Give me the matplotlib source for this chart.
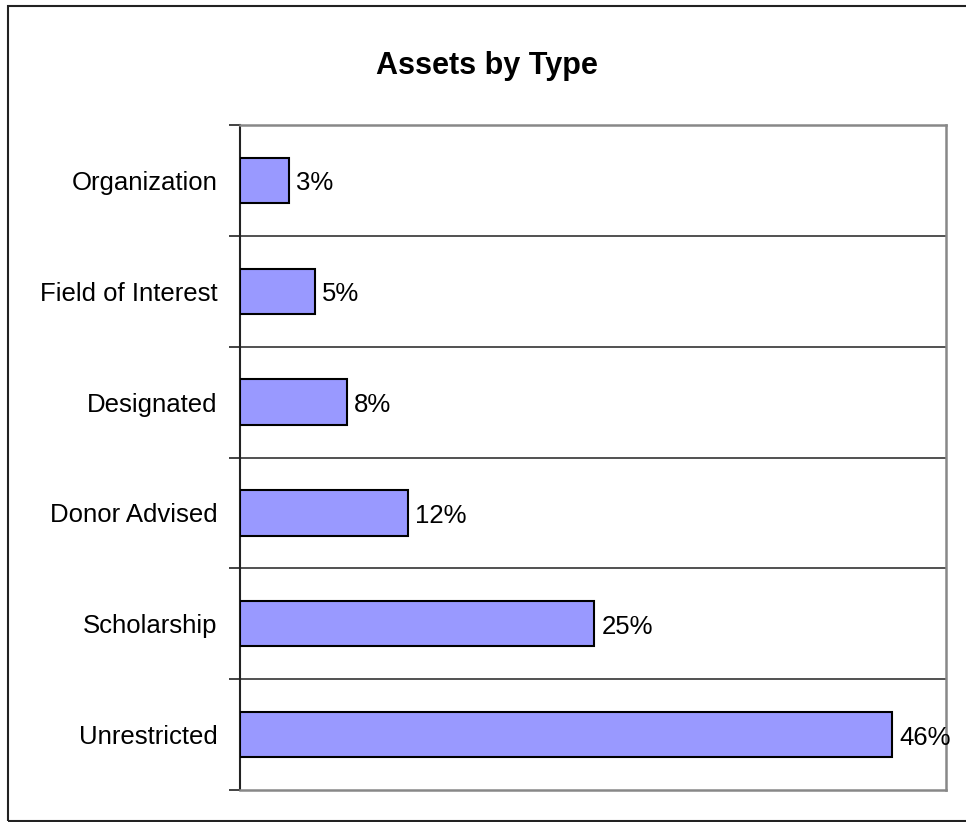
import matplotlib.pyplot as plt
from matplotlib.patches import Rectangle
import numpy as np

plt.rcParams['font.family'] = ['Liberation Sans', 'DejaVu Sans']

# Datos (de arriba hacia abajo)
categories = ["Organization", "Field of Interest", "Designated",
              "Donor Advised", "Scholarship", "Unrestricted"]
values = [3.45, 5.3, 7.6, 11.9, 25.1, 46.2]

W, H = 966, 822
fig = plt.figure(figsize=(W / 100, H / 100), dpi=100)
fig.patch.set_facecolor("white")

# Borde exterior del gráfico
fig.patches.append(Rectangle((8 / W, 1 - 821 / H), 1.2, (821 - 6) / H,
                             transform=fig.transFigure, fill=False,
                             edgecolor="#222222", linewidth=1.5))

ax = fig.add_axes([240 / W, 1 - 790 / H, (946 - 240) / W, (790 - 125) / H])

y = np.arange(len(categories))
ax.barh(y, values, height=0.41, color="#9999FF", edgecolor="black",
        linewidth=1.5, zorder=3)

for yi, v in zip(y, values):
    ax.annotate(f"{v:.0f}%", (v, yi), xytext=(7, -3), textcoords="offset pixels",
                va="center", ha="left", fontsize=18.5, zorder=4)

ax.set_xlim(0, 50)
ax.set_ylim(len(categories) - 0.5, -0.5)
ax.set_xticks([])
ax.set_yticks(y)
ax.set_yticklabels(categories, fontsize=18.5)
ax.tick_params(axis="y", which="major", length=0, pad=16)

bounds = np.arange(-0.5, len(categories), 1.0)
ax.set_yticks(bounds, minor=True)
ax.tick_params(axis="y", which="minor", length=8, width=1.2, color="#222222")

# líneas de división
for b in bounds[1:-1]:
    ax.axhline(b, color="#333333", linewidth=1.2, zorder=1)

for side in ["top", "right", "bottom"]:
    ax.spines[side].set_color("#888888")
    ax.spines[side].set_linewidth(1.8)
ax.spines["left"].set_color("#222222")
ax.spines["left"].set_linewidth(1.5)

fig.text(487 / W, 1 - 66 / H, "Assets by Type", ha="center", va="center",
         fontsize=22, fontweight="bold")

fig.savefig("out.png", dpi=100)
